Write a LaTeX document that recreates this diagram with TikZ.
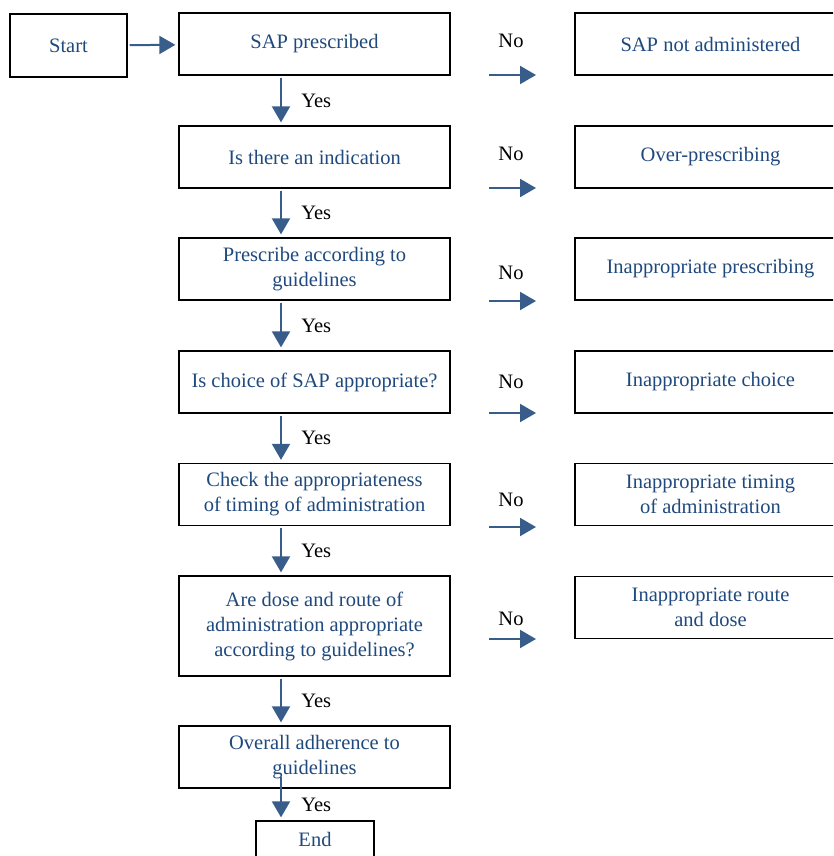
\documentclass[tikz,border=0pt]{standalone}
\usepackage{fontspec}
\setmainfont{Liberation Serif}
\usetikzlibrary{arrows.meta}

\definecolor{txtblue}{RGB}{31,73,125}
\definecolor{arrblue}{RGB}{56,93,138}

\begin{document}
\begin{tikzpicture}[
    x=1pt,
    y=-1pt,
    every node/.style={font=\fontsize{20.5}{25}\selectfont},
    box/.style={draw=black, line width=1.3pt, text=txtblue, align=center,
        minimum width=271, minimum height=62, inner sep=0pt},
    flow/.style={draw=arrblue, line width=2pt, -{Triangle[length=16pt,width=18pt]},
        shorten <=2pt, shorten >=3pt}
]

    \clip (0,0) rectangle (833,856);

    % main column
    \node[box, minimum width=117, minimum height=63] (start) at (68.5,45.5) {Start};
    \node[box] (m1) at (314.5,44) {SAP prescribed};
    \node[box] (m2) at (314.5,157) {Is there an indication};
    \node[box] (m3) at (314.5,269) {Prescribe according to\\guidelines};
    \node[box] (m4) at (314.5,382) {Is choice of SAP appropriate?};
    \node[box] (m5) at (314.5,494.5) {Check the appropriateness\\of timing of administration};
    \node[box, minimum height=100] (m6) at (314.5,626) {Are dose and route of\\administration appropriate\\according to guidelines?};
    \node[box] (m7) at (314.5,757) {Overall adherence to\\guidelines};
    \node[box, minimum width=118, minimum height=37] (end) at (315,839.5) {End};

    % outcomes
    \node[box] (r1) at (710.5,44) {SAP not administered};
    \node[box] (r2) at (710.5,157) {Over-prescribing};
    \node[box] (r3) at (710.5,269) {Inappropriate prescribing};
    \node[box] (r4) at (710.5,382) {Inappropriate choice};
    \node[box] (r5) at (710.5,494.5) {Inappropriate timing\\of administration};
    \node[box] (r6) at (710.5,607.5) {Inappropriate route\\and dose};

    \draw[flow] (start) -- (m1);

    \draw[flow] ([xshift=-33.5]m1.south) -- node[right=16pt] {Yes} ([xshift=-33.5]m2.north);
    \draw[flow] ([xshift=-33.5]m2.south) -- node[right=16pt] {Yes} ([xshift=-33.5]m3.north);
    \draw[flow] ([xshift=-33.5]m3.south) -- node[right=16pt] {Yes} ([xshift=-33.5]m4.north);
    \draw[flow] ([xshift=-33.5]m4.south) -- node[right=16pt] {Yes} ([xshift=-33.5]m5.north);
    \draw[flow] ([xshift=-33.5]m5.south) -- node[right=16pt] {Yes} ([xshift=-33.5]m6.north);
    \draw[flow] ([xshift=-33.5]m6.south) -- node[right=16pt] {Yes} ([xshift=-33.5]m7.north);
    \draw[flow] ([xshift=-33.5,yshift=-18]m7.center) -- node[pos=0.65,right=16pt] {Yes} ([xshift=-34]end.north);

    % No arrows
    \coordinate (no1) at (489,75);
    \coordinate (no2) at (489,188);
    \coordinate (no3) at (489,301);
    \coordinate (no4) at (489,413);
    \coordinate (no5) at (489,527);
    \coordinate (no6) at (489,639);

    \draw[flow, shorten <=0pt, shorten >=0pt] (no1) -- ++(47,0);
    \draw[flow, shorten <=0pt, shorten >=0pt] (no2) -- ++(47,0);
    \draw[flow, shorten <=0pt, shorten >=0pt] (no3) -- ++(47,0);
    \draw[flow, shorten <=0pt, shorten >=0pt] (no4) -- ++(47,0);
    \draw[flow, shorten <=0pt, shorten >=0pt] (no5) -- ++(47,0);
    \draw[flow, shorten <=0pt, shorten >=0pt] (no6) -- ++(47,0);

    \node (nolab1) at (511,41) {No};
    \node (nolab2) at (511,154) {No};
    \node (nolab3) at (511,273) {No};
    \node (nolab4) at (511,382) {No};
    \node (nolab5) at (511,500) {No};
    \node (nolab6) at (511,619) {No};

\end{tikzpicture}
\end{document}
